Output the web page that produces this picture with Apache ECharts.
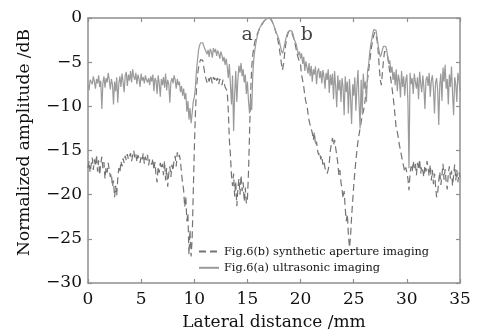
<!DOCTYPE html>
<html>
<head>
<meta charset="utf-8">
<script src="https://cdn.jsdelivr.net/npm/echarts@6/dist/echarts.min.js"></script>
<style>
html,body{margin:0;padding:0;background:#ffffff;}
#chart{width:485px;height:331px;}
</style>
</head>
<body>
<div id="chart"></div>
<script>
// Sampling grid of the lateral axis (mm)
const lateralStart = 0;
const lateralStep = 0.1;

// Fig.6(a) ultrasonic imaging (dB), one value every 0.1 mm from 0 to 35 mm
const ultrasonic = [
-7.6,-8.2,-7.0,-6.8,-7.5,-6.6,-7.2,-8.0,-6.9,-7.4,
-6.5,-7.8,-7.1,-10.3,-7.4,-6.6,-7.9,-6.8,-7.3,-6.2,
-7.0,-8.1,-6.9,-7.5,-9.8,-7.2,-8.3,-6.7,-9.6,-7.4,
-6.6,-7.8,-6.3,-7.2,-8.4,-6.5,-6.1,-7.7,-6.4,-7.1,
-6.0,-7.3,-5.8,-6.6,-7.0,-6.2,-7.5,-6.4,-6.9,-7.8,
-6.3,-7.1,-6.7,-7.4,-6.5,-7.0,-7.3,-6.8,-7.6,-6.6,
-7.2,-6.4,-8.3,-6.8,-7.1,-8.6,-6.5,-7.4,-8.9,-6.9,
-7.6,-6.7,-7.9,-6.3,-8.2,-7.0,-7.5,-9.6,-7.2,-6.8,
-7.4,-6.5,-7.0,-8.0,-6.9,-7.6,-7.2,-8.4,-7.7,-8.8,
-8.0,-9.2,-8.5,-10.6,-9.4,-11.5,-10.2,-11.9,-10.8,-9.5,
-9.0,-8.0,-6.0,-4.8,-3.6,-3.1,-2.8,-2.9,-2.8,-3.2,
-3.5,-3.3,-4.1,-3.6,-4.4,-3.5,-3.8,-4.5,-3.4,-3.9,
-3.5,-4.3,-3.7,-4.0,-4.6,-3.8,-4.2,-4.9,-4.4,-5.3,
-4.6,-5.5,-6.8,-5.2,-7.5,-9.8,-6.5,-12.8,-8.6,-6.0,
-9.5,-7.0,-5.4,-6.2,-5.1,-6.6,-5.8,-7.3,-6.4,-8.6,
-7.2,-9.4,-10.8,-9.0,-10.4,-6.5,-4.6,-3.6,-2.8,-2.2,
-1.7,-1.3,-1.0,-0.8,-0.7,-0.5,-0.3,-0.2,-0.1,0.0,
0.0,0.0,-0.1,-0.3,-0.6,-0.9,-1.3,-1.6,-1.8,-2.2,
-2.6,-3.2,-3.7,-4.0,-3.6,-3.0,-2.4,-2.0,-1.6,-1.4,
-1.4,-1.3,-1.5,-1.9,-2.4,-2.6,-3.0,-3.6,-4.2,-3.8,
-4.6,-4.0,-5.2,-4.4,-6.0,-4.9,-5.6,-6.3,-5.1,-6.6,
-5.4,-7.2,-5.8,-6.4,-5.5,-7.5,-6.1,-5.7,-6.8,-6.0,
-7.4,-5.9,-6.6,-8.0,-6.2,-7.0,-5.8,-8.5,-6.4,-7.6,
-6.3,-9.2,-6.0,-7.7,-10.1,-6.5,-8.2,-7.0,-9.5,-6.8,
-7.9,-11.0,-6.6,-8.4,-7.2,-10.8,-6.9,-9.0,-12.0,-7.5,
-8.8,-6.7,-10.5,-7.8,-5.9,-9.6,-12.5,-7.0,-10.8,-6.3,
-8.0,-7.2,-9.5,-6.0,-5.3,-4.0,-3.0,-2.4,-1.7,-1.3,
-1.1,-1.4,-2.2,-3.1,-3.8,-4.4,-4.1,-3.6,-3.2,-3.1,
-3.2,-3.6,-4.4,-5.2,-4.8,-6.2,-5.5,-7.0,-6.1,-7.6,
-5.8,-8.3,-6.4,-7.1,-9.0,-6.0,-7.8,-6.6,-8.8,-7.0,
-6.4,-9.5,-17.0,-6.2,-7.5,-6.8,-8.6,-6.3,-7.2,-8.0,
-6.7,-9.2,-6.1,-7.4,-8.4,-6.5,-7.8,-10.3,-7.0,-6.6,
-7.7,-6.2,-8.9,-7.1,-6.5,-8.0,-10.8,-7.3,-6.8,-8.2,
-12.1,-7.5,-6.3,-9.4,-5.6,-7.2,-5.3,-8.0,-6.9,-9.8,
-6.4,-7.8,-5.5,-8.6,-11.0,-6.7,-7.5,-9.5,-6.2,-7.0,
-8.3
];

// Fig.6(b) synthetic aperture imaging (dB), same sampling
const synthetic = [
-17.0,-16.2,-17.5,-16.6,-15.8,-17.2,-16.0,-16.8,-15.5,-17.4,
-16.1,-17.8,-16.5,-15.7,-17.0,-16.3,-18.2,-16.9,-17.5,-16.4,
-17.2,-18.0,-17.6,-19.1,-18.4,-20.3,-19.0,-20.1,-18.2,-17.0,
-17.5,-16.2,-16.8,-15.9,-16.4,-15.6,-16.1,-15.4,-16.0,-15.7,
-15.3,-16.2,-15.6,-15.0,-15.8,-15.4,-16.3,-15.5,-15.9,-16.4,
-15.6,-16.0,-15.3,-16.5,-15.7,-16.1,-15.5,-16.7,-16.0,-15.8,
-16.6,-15.9,-17.2,-16.3,-17.8,-18.6,-16.8,-17.5,-16.4,-17.1,
-16.5,-17.8,-16.2,-18.4,-17.0,-19.1,-17.6,-16.8,-18.0,-16.6,
-17.3,-16.0,-15.6,-16.8,-15.2,-15.8,-15.5,-16.2,-17.6,-18.7,
-19.5,-21.4,-20.2,-23.0,-22.1,-26.8,-24.0,-27.0,-25.0,-20.0,
-15.0,-11.0,-8.2,-6.5,-5.6,-5.0,-4.7,-4.5,-4.8,-5.6,
-6.4,-6.9,-7.3,-6.8,-7.2,-6.5,-6.9,-7.4,-6.7,-7.0,
-6.6,-7.1,-6.8,-7.5,-6.9,-7.2,-7.6,-7.0,-7.3,-7.8,
-8.0,-8.3,-10.5,-13.8,-15.5,-17.8,-19.0,-17.6,-20.2,-18.5,
-21.3,-19.4,-18.2,-20.0,-17.8,-19.6,-18.6,-20.8,-19.2,-21.0,
-20.5,-17.5,-13.0,-8.6,-5.6,-4.2,-3.3,-2.7,-2.2,-1.9,
-1.6,-1.3,-1.0,-0.8,-0.6,-0.5,-0.3,-0.2,-0.1,0.0,
0.0,0.0,-0.1,-0.3,-0.6,-0.9,-1.3,-1.7,-2.1,-2.7,
-3.4,-4.3,-5.2,-5.9,-5.2,-4.0,-3.0,-2.3,-1.8,-1.5,
-1.4,-1.4,-1.6,-2.1,-2.5,-3.0,-3.6,-4.2,-4.6,-5.0,
-5.3,-6.5,-7.1,-7.8,-8.8,-9.5,-9.9,-10.8,-11.6,-12.1,
-12.5,-13.0,-13.8,-12.9,-14.4,-14.0,-15.0,-15.5,-15.2,-16.0,
-15.6,-16.6,-16.2,-17.0,-16.8,-17.6,-17.2,-16.4,-15.0,-14.2,
-13.6,-14.4,-13.8,-14.7,-15.5,-16.4,-17.8,-17.2,-18.6,-19.4,
-20.4,-19.6,-21.5,-23.0,-22.2,-24.5,-26.0,-24.8,-22.5,-20.8,
-19.0,-17.5,-16.2,-15.0,-14.0,-13.2,-12.5,-11.8,-11.0,-10.6,
-10.0,-9.0,-8.0,-7.0,-6.0,-5.0,-4.0,-3.1,-2.4,-1.9,
-1.6,-1.7,-2.5,-3.8,-5.5,-7.0,-7.6,-6.2,-4.8,-3.8,
-3.6,-3.8,-4.4,-5.3,-6.2,-7.0,-7.9,-8.8,-9.9,-11.2,
-12.5,-12.9,-13.6,-14.4,-15.0,-15.6,-16.3,-16.8,-17.4,-16.9,
-17.0,-18.2,-19.5,-17.6,-16.8,-17.4,-16.2,-17.0,-16.5,-17.8,
-16.4,-17.2,-16.0,-17.6,-16.8,-17.3,-18.0,-16.7,-17.4,-16.2,
-17.0,-17.9,-16.6,-18.4,-17.2,-18.8,-17.6,-19.0,-20.3,-19.8,
-18.5,-17.4,-18.9,-17.8,-16.5,-18.3,-17.1,-18.6,-19.4,-17.6,
-16.8,-18.2,-17.3,-19.0,-17.8,-16.6,-18.4,-17.2,-18.6,-17.5,
-18.0
];

// Axis ticks
const xTicks = { min: 0, max: 35, interval: 5 };
const yTicks = { min: -30, max: 0, interval: 5 };

// Series names and annotations
const seriesNames = ['Fig.6(b) synthetic aperture imaging', 'Fig.6(a) ultrasonic imaging'];
const annotationNames = ['a', 'b'];
const annotationX = [14.97, 20.6];
const annotationY = [-1.9, -1.9];

function toPairs(vals) {
  return vals.map((v, i) => [Math.round((lateralStart + i * lateralStep) * 10) / 10, v]);
}

const serif = 'DejaVu Serif';
const frameColor = '#8f8f8f';
const minusFmt = v => (v < 0 ? '\u2212' + Math.abs(v) : String(v));

const baseAxis = {
  axisLine: { show: true, onZero: false, lineStyle: { color: frameColor, width: 1.5 } },
  axisTick: { show: true, inside: true, length: 4, lineStyle: { color: frameColor, width: 1.2 } },
  splitLine: { show: false }
};

const chart = echarts.init(document.getElementById('chart'), null, { renderer: 'canvas' });
chart.setOption({
  backgroundColor: '#ffffff',
  animation: false,
  grid: { left: 88, right: 25, top: 18, bottom: 48, containLabel: false, outerBoundsMode: 'none' },
  legend: {
    data: seriesNames,
    orient: 'vertical',
    left: 198,
    top: 246,
    padding: 0,
    itemWidth: 20,
    itemHeight: 14,
    itemGap: 5,
    itemStyle: { opacity: 0 },
    textStyle: { fontFamily: serif, fontSize: 11.3, color: '#111' },
    selectedMode: false
  },
  xAxis: [
    Object.assign({}, baseAxis, {
      type: 'value', position: 'bottom', min: xTicks.min, max: xTicks.max, interval: xTicks.interval,
      name: 'Lateral distance /mm', nameLocation: 'middle', nameGap: 31,
      nameTextStyle: { fontFamily: serif, fontSize: 17, color: '#111' },
      axisLabel: { show: true, margin: 8, fontFamily: serif, fontSize: 17, color: '#111' }
    }),
    Object.assign({}, baseAxis, {
      type: 'value', position: 'top', min: xTicks.min, max: xTicks.max, interval: xTicks.interval,
      axisLabel: { show: false }
    })
  ],
  yAxis: [
    Object.assign({}, baseAxis, {
      type: 'value', position: 'left', min: yTicks.min, max: yTicks.max, interval: yTicks.interval,
      name: 'Normalized amplitude /dB', nameLocation: 'middle', nameGap: 55,
      nameTextStyle: { fontFamily: serif, fontSize: 17, color: '#111', padding: [0, 0, 0, 16] },
      axisLabel: { show: true, margin: 6, fontFamily: serif, fontSize: 17, color: '#111', formatter: minusFmt }
    }),
    Object.assign({}, baseAxis, {
      type: 'value', position: 'right', min: yTicks.min, max: yTicks.max, interval: yTicks.interval,
      axisLabel: { show: false }
    })
  ],
  series: [
    {
      name: seriesNames[0], type: 'line', data: toPairs(synthetic),
      xAxisIndex: 0, yAxisIndex: 0, symbol: 'none', showSymbol: false,
      lineStyle: { color: '#747474', width: 1.2, type: [7, 4] },
      itemStyle: { color: '#747474' }, z: 2
    },
    {
      name: seriesNames[1], type: 'line', data: toPairs(ultrasonic),
      xAxisIndex: 0, yAxisIndex: 0, symbol: 'none', showSymbol: false,
      lineStyle: { color: '#9a9a9a', width: 1.2 },
      itemStyle: { color: '#9a9a9a' }, z: 3
    },
    {
      name: 'annotations', type: 'scatter', xAxisIndex: 0, yAxisIndex: 0,
      symbolSize: 0, silent: true, z: 5,
      data: annotationNames.map((n, i) => ({ name: n, value: [annotationX[i], annotationY[i]] })),
      label: { show: true, position: 'inside', formatter: '{b}', fontFamily: serif, fontSize: 19, color: '#111' }
    }
  ]
});
</script>
</body>
</html>
